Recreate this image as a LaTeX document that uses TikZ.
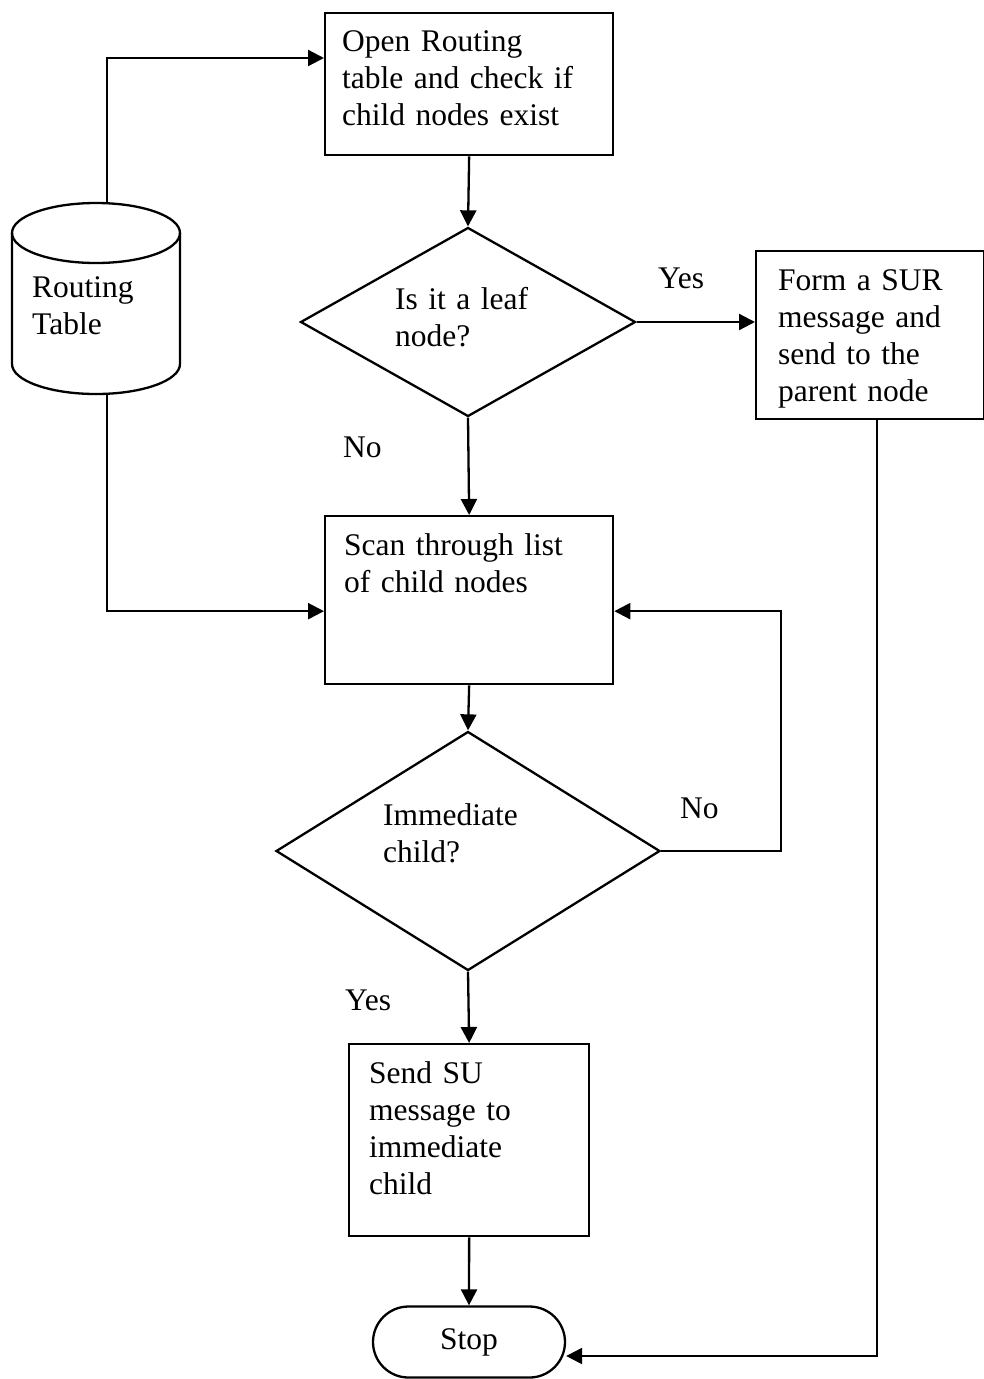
\documentclass[tikz,border=0pt]{standalone}
\usepackage{fontspec}
\setmainfont{Liberation Serif}
\usetikzlibrary{shapes.geometric,shapes.misc,arrows.meta,calc}
\begin{document}
\begin{tikzpicture}[x=1pt,y=-1pt,
  every node/.style={font=\fontsize{31.5}{37}\selectfont},
  box/.style={draw,line width=2.3pt,rectangle,inner sep=0pt,anchor=north west},
  dia/.style={draw,line width=2.3pt,diamond,inner sep=0pt},
  txt/.style={anchor=base west,inner sep=0pt,text width=280pt,align=left},
  lbl/.style={anchor=base west,inner sep=0pt},
  line/.style={line width=2.3pt},
  arr/.style={line width=2.3pt,-{Triangle[length=16pt,width=16pt]}}]
\useasboundingbox (0,0) rectangle (984,1379);

% cylinder
\draw[line] (96,233) ellipse [x radius=84pt, y radius=30pt];
\draw[line] (12,233) -- (12,364) arc[start angle=180,end angle=360,x radius=84pt,y radius=30pt] -- (180,233);
\coordinate (cyltop) at (107,203);
\coordinate (cylbot) at (107,394);
\node[txt] (rt) at (32,297) {Routing\\Table};

% boxes
\node[box,minimum width=288pt,minimum height=142pt] (b1) at (324,12) {};
\node[txt] (t1) at (342,51) {Open Routing\\table and check if\\child nodes exist};

\node[dia,minimum width=335pt,minimum height=189pt] (d1) at (468,322) {};
\node[txt] (t2) at (395,309) {Is it a leaf\\node?};

\node[box,minimum width=228pt,minimum height=168pt] (b2) at (755,250) {};
\node[txt] (t3) at (778,290) {Form a SUR\\message and\\send to the\\parent node};

\node[box,minimum width=288pt,minimum height=168pt] (b3) at (324,515) {};
\node[txt] (t4) at (344,555) {Scan through list\\of child nodes};

\node[dia,minimum width=384pt,minimum height=239pt] (d2) at (468,851) {};
\node[txt] (t5) at (383,825) {Immediate\\child?};

\node[box,minimum width=240pt,minimum height=192pt] (b4) at (348,1043) {};
\node[txt] (t6) at (369,1083) {Send SU\\message to\\immediate\\child};

\node[draw,line width=2.3pt,rounded rectangle,minimum width=192pt,minimum height=71pt,inner sep=0pt] (stop) at (469,1342) {Stop};

% labels
\node[lbl] (yes1) at (658,288) {Yes};
\node[lbl] (no1) at (343,457) {No};
\node[lbl] (no2) at (680,818) {No};
\node[lbl] (yes2) at (345,1010) {Yes};

% connectors
\draw[arr] (cyltop) |- ($(b1.north west)+(0,46)$);
\draw[arr] (cylbot) |- ($(b3.west)+(0,11)$);
\draw[arr] (b1.south) -- (d1.north);
\draw[arr] (d1.east) -- (b2.west |- d1.east);
\draw[arr] (d1.south) -- (b3.north);
\draw[arr] (b3.south) -- (d2.north);
\draw[arr] (d2.east) -- ++(120,0) |- ($(b3.east)+(0,11)$);
\draw[arr] (d2.south) -- (b4.north);
\draw[arr] (b4.south) -- (stop.north);
\draw[arr] ($(b2.south west)+(122,0)$) |- ($(stop.east)+(0,14)$);
\end{tikzpicture}
\end{document}
